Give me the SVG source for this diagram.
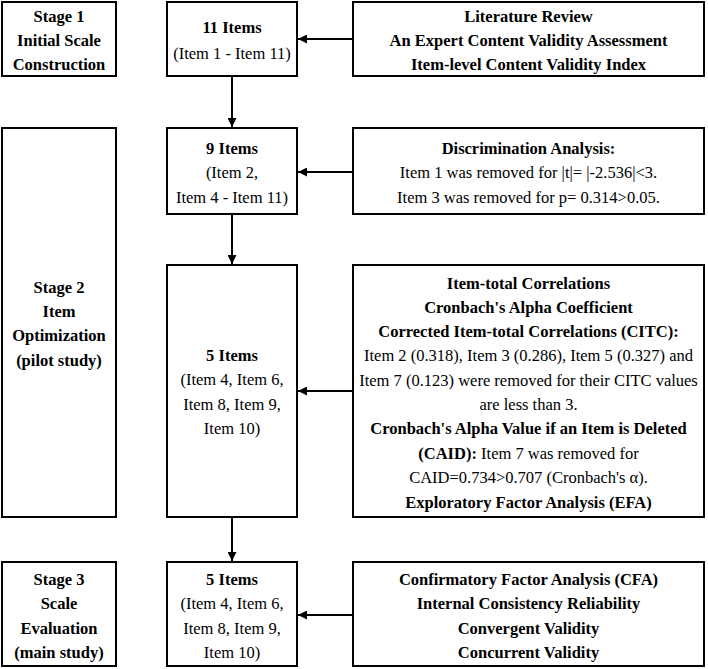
<svg xmlns="http://www.w3.org/2000/svg" width="708" height="669" viewBox="0 0 708 669">
<style>
rect.box{fill:#fff;stroke:#000;stroke-width:2}
text{font-family:"Liberation Serif","Times New Roman",serif;font-size:16.5px;fill:#000;text-anchor:middle}
.b{font-weight:bold}
.c line{stroke:#000;stroke-width:2}
</style>
<defs>
<marker id="ah" viewBox="0 0 10 10" refX="10" refY="5" markerWidth="4.5" markerHeight="4.5" orient="auto" markerUnits="strokeWidth">
<path d="M0,0 L10,5 L0,10 z" fill="#000"/>
</marker>
</defs>
<rect width="708" height="669" fill="#fff"/>
<g id="stage1">
<rect class="box" x="2" y="2" width="114" height="74"/>
<text class="b" x="59" y="21.5">Stage 1</text>
<text class="b" x="59" y="45.5">Initial Scale</text>
<text class="b" x="59" y="69.5">Construction</text>
</g>
<g id="items11">
<rect class="box" x="167" y="2" width="130" height="74"/>
<text class="b" x="232" y="32.5">11 Items</text>
<text x="232" y="58.5">(Item 1 - Item 11)</text>
</g>
<g id="literature">
<rect class="box" x="353" y="2" width="351" height="74"/>
<text class="b" x="528.5" y="21.5">Literature Review</text>
<text class="b" x="528.5" y="45.5">An Expert Content Validity Assessment</text>
<text class="b" x="528.5" y="69.5">Item-level Content Validity Index</text>
</g>
<g id="stage2">
<rect class="box" x="2" y="128" width="114" height="389"/>
<text class="b" x="59" y="292.5">Stage 2</text>
<text class="b" x="59" y="316.5">Item</text>
<text class="b" x="59" y="341">Optimization</text>
<text class="b" x="59" y="365.5">(pilot study)</text>
</g>
<g id="items9">
<rect class="box" x="167" y="128" width="130" height="86"/>
<text class="b" x="232" y="153.5">9 Items</text>
<text x="232" y="178">(Item 2,</text>
<text x="232" y="202.5">Item 4 - Item 11)</text>
</g>
<g id="discrimination">
<rect class="box" x="353" y="128" width="351" height="86"/>
<text class="b" x="528.5" y="153.5">Discrimination Analysis:</text>
<text x="528.5" y="178">Item 1 was removed for |t|= |-2.536|&lt;3.</text>
<text x="528.5" y="202.5">Item 3 was removed for p= 0.314&gt;0.05.</text>
</g>
<g id="items5a">
<rect class="box" x="167" y="265" width="130" height="252"/>
<text class="b" x="232" y="360.5">5 Items</text>
<text x="232" y="385">(Item 4, Item 6,</text>
<text x="232" y="409.5">Item 8, Item 9,</text>
<text x="232" y="434">Item 10)</text>
</g>
<g id="pilot-analyses">
<rect class="box" x="353" y="265" width="351" height="252"/>
<text class="b" x="528.5" y="288.5">Item-total Correlations</text>
<text class="b" x="528.5" y="312.5">Cronbach's Alpha Coefficient</text>
<text class="b" x="528.5" y="337">Corrected Item-total Correlations (CITC):</text>
<text x="528.5" y="361">Item 2 (0.318), Item 3 (0.286), Item 5 (0.327) and</text>
<text x="528.5" y="385.5">Item 7 (0.123) were removed for their CITC values</text>
<text x="528.5" y="409.5">are less than 3.</text>
<text class="b" x="528.5" y="434">Cronbach's Alpha Value if an Item is Deleted</text>
<text x="528.5" y="458.5"><tspan class="b">(CAID):</tspan> Item 7 was removed for</text>
<text x="528.5" y="483">CAID=0.734&gt;0.707 (Cronbach's α).</text>
<text class="b" x="528.5" y="507.5">Exploratory Factor Analysis (EFA)</text>
</g>
<g id="stage3">
<rect class="box" x="2" y="562" width="114" height="104"/>
<text class="b" x="59" y="584.5">Stage 3</text>
<text class="b" x="59" y="608.5">Scale</text>
<text class="b" x="59" y="633.5">Evaluation</text>
<text class="b" x="59" y="657.5">(main study)</text>
</g>
<g id="items5b">
<rect class="box" x="167" y="562" width="130" height="104"/>
<text class="b" x="232" y="584.5">5 Items</text>
<text x="232" y="608.5">(Item 4, Item 6,</text>
<text x="232" y="633.5">Item 8, Item 9,</text>
<text x="232" y="657.5">Item 10)</text>
</g>
<g id="main-analyses">
<rect class="box" x="353" y="562" width="351" height="104"/>
<text class="b" x="528.5" y="584.5">Confirmatory Factor Analysis (CFA)</text>
<text class="b" x="528.5" y="608.5">Internal Consistency Reliability</text>
<text class="b" x="528.5" y="633.5">Convergent Validity</text>
<text class="b" x="528.5" y="657.5">Concurrent Validity</text>
</g>
<g class="c" id="connectors">
<line x1="352" y1="39" x2="298" y2="39" marker-end="url(#ah)"/>
<line x1="232" y1="77" x2="232" y2="127" marker-end="url(#ah)"/>
<line x1="352" y1="172" x2="298" y2="172" marker-end="url(#ah)"/>
<line x1="232" y1="215" x2="232" y2="264" marker-end="url(#ah)"/>
<line x1="352" y1="391" x2="298" y2="391" marker-end="url(#ah)"/>
<line x1="232" y1="518" x2="232" y2="561" marker-end="url(#ah)"/>
<line x1="352" y1="615" x2="298" y2="615" marker-end="url(#ah)"/>
</g>
</svg>
